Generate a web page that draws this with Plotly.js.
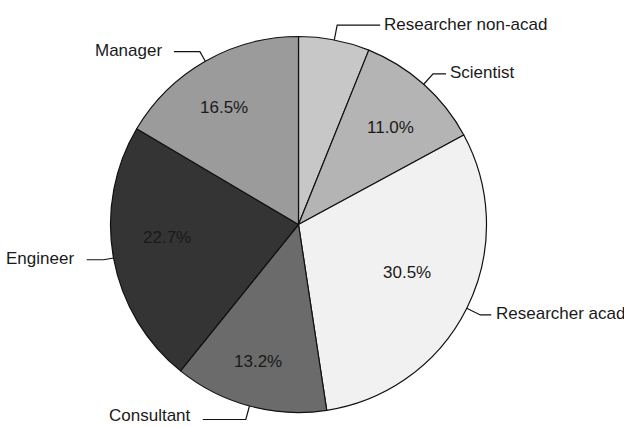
<!DOCTYPE html>
<html>
<head>
<meta charset="utf-8">
<script src="https://cdn.plot.ly/plotly-3.0.1.min.js"></script>
<style>html,body{margin:0;padding:0;background:#fff;}#chart{width:624px;height:427px;}</style>
</head>
<body>
<div id="chart"></div>
<script>
// ---- data ----
const labels = ['Researcher non-acad', 'Scientist', 'Researcher acad', 'Consultant', 'Engineer', 'Manager'];
const values = [6.1, 11.0, 30.5, 13.2, 22.7, 16.5];
const showPct = [false, true, true, true, true, true];

// ---- styling ----
const colors = ['#c7c7c7', '#b4b4b4', '#f1f1f1', '#6b6b6b', '#343434', '#9b9b9b'];
const radialExt = [15, 14, 15, 14, 10, 11];   // leader: outward part (px)
const horizLen = [43, 13, 11, 43, 17, 26];    // leader: horizontal part (px)
const labelGap = [2, 2, 3, 10, 11, 10];       // gap between leader and label (px)
const pctAngleOff = [0, 2, -2.5, 1.5, 4.5, -2.6]; // degrees, percentage label placement
const pctRadius = [0.7, 0.711, 0.631, 0.762, 0.703, 0.737];
const W = 624, H = 427;
const cx = 298.5, cy = 224.5, R = 188;

const font = {family: 'Liberation Sans, Arial, sans-serif', size: 17, color: '#1a1a1a'};

const total = values.reduce((a, b) => a + b, 0);
const shapes = [], annotations = [];
const px2x = x => x / W, px2y = y => 1 - y / H;
let cum = 0;
values.forEach((v, i) => {
  const midDeg = (cum + v / 2) / total * 360;
  cum += v;
  const mid = midDeg * Math.PI / 180;
  const s = Math.sin(mid), c = Math.cos(mid);
  const x0 = cx + R * s, y0 = cy - R * c;
  const x1 = cx + (R + radialExt[i]) * s, y1 = cy - (R + radialExt[i]) * c;
  const right = s >= 0;
  const x2 = x1 + (right ? horizLen[i] : -horizLen[i]);
  shapes.push({
    type: 'path', xref: 'paper', yref: 'paper',
    path: `M${px2x(x0)},${px2y(y0)} L${px2x(x1)},${px2y(y1)} L${px2x(x2)},${px2y(y1)}`,
    line: {color: '#111', width: 1.2}
  });
  const ty = Math.min(Math.max(y1 - 1, 12), H - 12);
  annotations.push({
    xref: 'paper', yref: 'paper', x: px2x(x2 + (right ? labelGap[i] : -labelGap[i])), y: px2y(ty),
    xanchor: right ? 'left' : 'right', yanchor: 'middle',
    text: labels[i], showarrow: false, font: font
  });
  if (showPct[i]) {
    const a = (midDeg + pctAngleOff[i]) * Math.PI / 180;
    const r = R * pctRadius[i];
    annotations.push({
      xref: 'paper', yref: 'paper',
      x: px2x(cx + r * Math.sin(a)), y: px2y(cy - r * Math.cos(a)),
      xanchor: 'center', yanchor: 'middle',
      text: (v / total * 100).toFixed(1) + '%', showarrow: false, font: font
    });
  }
});

const trace = {
  type: 'pie',
  labels: labels,
  values: values,
  sort: false,
  direction: 'clockwise',
  rotation: 0,
  marker: {colors: colors, line: {color: '#111', width: 1.2}},
  textinfo: 'none',
  hoverinfo: 'label+percent',
  domain: {x: [(cx - R) / W, (cx + R) / W], y: [1 - (cy + R) / H, 1 - (cy - R) / H]}
};

const layout = {
  width: W, height: H,
  margin: {l: 0, r: 0, t: 0, b: 0},
  showlegend: false,
  paper_bgcolor: '#fff',
  shapes: shapes,
  annotations: annotations
};

Plotly.newPlot('chart', [trace], layout, {displayModeBar: false, staticPlot: true});
</script>
</body>
</html>
